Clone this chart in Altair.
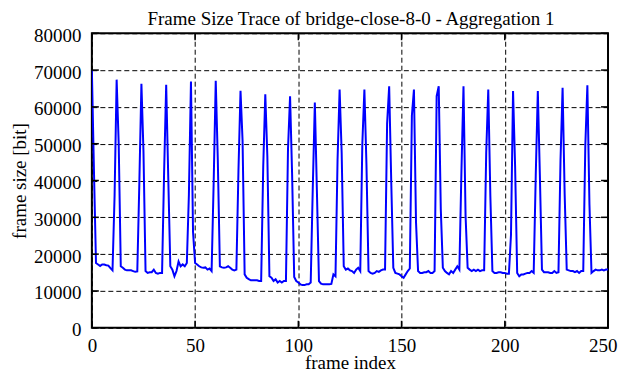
import altair as alt
import pandas as pd

# Frame sizes in bit, one value per frame (frames 0..250)
frame_size = [
    70000, 43000,
    17600, 17200, 16800, 17200, 17200, 17000, 16900, 16200, 15600,
    35800, 67400, 50000,
    16700, 16300, 15800, 15600, 15600, 15600, 15400, 15200, 15300,
    39400, 66300, 47800,
    15400, 14900, 15100, 15100, 15800, 14900, 14700, 14900, 14900,
    42500, 66000, 40800,
    16700, 15800, 14000, 15400, 18000, 16700, 17200, 16700, 17600,
    36200, 66900, 26000,
    17600, 17200, 16700, 16400, 16300, 16400, 15800, 16100, 15400,
    39600, 67100, 45600,
    16700, 16400, 16300, 16400, 16700, 16300, 15800, 15600, 15800,
    42500, 64400, 50700,
    14500, 13600, 13200, 12900, 12900, 12900, 12900, 12700, 12700,
    43800, 63400, 46500,
    14000, 13600, 12700, 13200, 12300, 12700, 12300, 12700, 12700,
    48500, 62900, 41400,
    13800, 12700, 12300, 11800, 11600, 11600, 11800, 11800, 12300,
    38000, 61200, 37100,
    12700, 12000, 11800, 11800, 11800, 11800, 11900, 14500, 14000,
    45600, 64700, 47400,
    16700, 15800, 16100, 15600, 15400, 14900, 15800, 16300, 15400,
    50000, 64700, 44300,
    15400, 14900, 14700, 14900, 15400, 15200, 15600, 15800, 15800,
    55400, 65600, 39800,
    16300, 14900, 14700, 14500, 14000, 13600, 14500, 15400, 16100,
    57600, 64700, 28700,
    15400, 14900, 14900, 15100, 15100, 15400, 14900, 14900, 15400,
    62900, 65600, 32300,
    16300, 15400, 14900, 14500, 15400, 14900, 15800, 16700, 15800,
    42500, 65600, 30500,
    16300, 15800, 15400, 15800, 15400, 15800, 15400, 15600, 15600,
    47400, 64700, 36000,
    15400, 14900, 14900, 15100, 15100, 14900, 14900, 14700, 14700,
    25200, 64300, 43800,
    14900, 14000, 14500, 14500, 14700, 14900, 14900, 15400, 14900,
    41400, 64300, 41200,
    15800, 15100, 15100, 15100, 14900, 14900, 15400, 14900, 15100,
    45800, 65200, 36300,
    15800, 15600, 15400, 15400, 15100, 15400, 14900, 15400, 15400,
    49400, 65900, 33600,
    14900, 15400, 15800, 15600, 15600, 15800, 15600, 15800, 15800,
]
frame_index = list(range(len(frame_size)))

x_ticks = [0, 50, 100, 150, 200, 250]
y_ticks = [0, 10000, 20000, 30000, 40000, 50000, 60000, 70000, 80000]

title_text = "Frame Size Trace of bridge-close-8-0 - Aggregation 1"
x_title = "frame index"
y_title = "frame size [bit]"

df = pd.DataFrame({"frame": frame_index, "size": frame_size})
xt = pd.DataFrame({"frame": x_ticks})
yt = pd.DataFrame({"size": y_ticks})
tt = pd.DataFrame({"label": [title_text]})

W, H = 517, 295
FONT = "Liberation Serif"
FS = 19
TICK = 7

xs = alt.Scale(domain=[0, 250], nice=False, zero=False)
ys = alt.Scale(domain=[0, 80000], nice=False)

x_enc = alt.X("frame:Q", scale=xs, title=x_title,
              axis=alt.Axis(values=x_ticks, format="d", labelFlush=False,
                            labelAlign={"condition": {"test": "datum.value == 250", "value": "right"},
                                        "value": "center"},
                            labelOffset={"condition": {"test": "datum.value == 250", "value": 9},
                                         "value": 0},
                            labelBaseline="alphabetic", labelPadding=24,
                            titleX=W / 2, titleY=41, titleBaseline="alphabetic",
                            titleAlign="center"))
y_enc = alt.Y("size:Q", scale=ys, title=y_title,
              axis=alt.Axis(values=y_ticks, format="d", labelFlush=False,
                            labelPadding=11, labelBaseline="middle", labelOffset=2,
                            titleX=-66, titleY=H / 2, titleAngle=270,
                            titleBaseline="alphabetic", titleAlign="center"))

line = alt.Chart(df).mark_line(color="#0000ff", strokeWidth=2, clip=True).encode(
    x=x_enc, y=y_enc)

bottom = alt.Chart(xt).mark_rule(color="black", strokeWidth=1.5).encode(
    x=x_enc, y=alt.value(H), y2=alt.value(H - TICK))
top = alt.Chart(xt).mark_rule(color="black", strokeWidth=1.5).encode(
    x=x_enc, y=alt.value(0), y2=alt.value(TICK))
left = alt.Chart(yt).mark_rule(color="black", strokeWidth=1.5).encode(
    y=y_enc, x=alt.value(0), x2=alt.value(TICK))
right = alt.Chart(yt).mark_rule(color="black", strokeWidth=1.5).encode(
    y=y_enc, x=alt.value(W), x2=alt.value(W - TICK))

title = alt.Chart(tt).mark_text(font=FONT, fontSize=FS, color="black",
                                align="center", baseline="alphabetic").encode(
    text="label:N", x=alt.value(W / 2 + 1), y=alt.value(-8))

chart = alt.layer(line, bottom, top, left, right, title).properties(
    width=W, height=H,
    autosize=alt.AutoSizeParams(type="none"),
    padding={"left": 84, "top": 25, "right": 10, "bottom": 46},
).configure_view(stroke="black", strokeWidth=2).configure_axis(
    labelFont=FONT, labelFontSize=FS, labelColor="black",
    titleFont=FONT, titleFontSize=FS, titleFontWeight="normal", titleColor="black",
    domain=False, ticks=False, tickSize=0,
    grid=True, gridColor="black", gridDash=[5, 3], gridWidth=1, gridOpacity=1,
)

chart.save("out.html", embed_options={"renderer": "svg", "actions": False})
